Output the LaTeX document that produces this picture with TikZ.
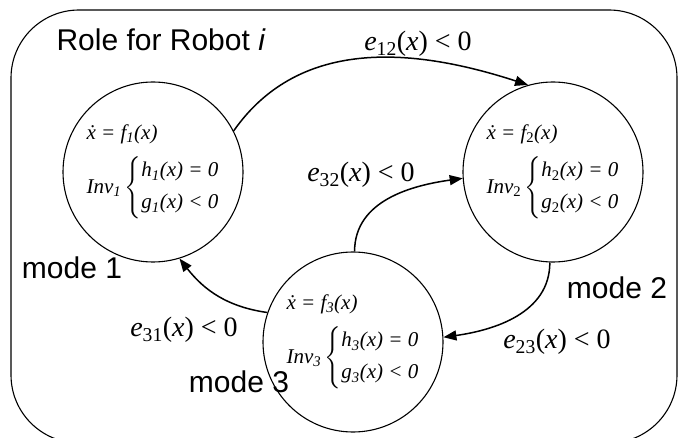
\documentclass[tikz,border=0pt]{standalone}
\usepackage{amsmath}
\usepackage{fontspec}
\setmainfont{Liberation Serif}
\setsansfont{Liberation Sans}
\usepackage{tikz}
\usetikzlibrary{arrows.meta}

% guard and invariant texts, set in the serif text font
\newcommand{\guardtxt}[1]{\textit{e}\textsubscript{#1}(\textit{x})~<~0}
\newcommand{\modetxt}[1]{\textit{\.x = f\textsubscript{#1}(x)}\\[12pt]
  \textit{Inv\textsubscript{#1}}\,$\left\{\begin{tabular}{@{}l@{}}\textit{h\textsubscript{#1}(x) = 0}\\[8pt]
  \textit{g\textsubscript{#1}(x) < 0}\end{tabular}\right.$}

\begin{document}
\begin{tikzpicture}[
  x=1pt, y=1pt,
  frame/.style={draw, line width=1.1pt, rounded corners=68pt},
  mode/.style={draw, circle, line width=1.1pt, minimum size=180pt, inner sep=0pt,
    align=left, font=\fontsize{21}{24}\selectfont},
  lbl/.style={font=\fontsize{30}{34}\sffamily},
  guard/.style={font=\fontsize{28}{32}\selectfont},
  arr/.style={-{Triangle[length=13pt,width=10pt]}, line width=1.5pt},
]
\useasboundingbox (0,0) rectangle (678,437);
\draw[frame] (11,427) rectangle (677,-6);
\node[lbl, anchor=base west] (title) at (53,386) {Role for Robot \textit{i}};
% the three modes
\node[mode] (m1) at (153,265) {\modetxt{1}};
\node[mode] (m2) at (553,265) {\modetxt{\upshape 2}};
\node[mode] (m3) at (353,95) {\modetxt{3}};
\node[lbl] (name1) at (72,169) {mode 1};
\node[lbl] (name2) at (617,149) {mode 2};
\node[lbl] (name3) at (239,55) {mode 3};
% transitions
\draw[arr] (m1.27) to[out=55, in=162] (m2.106);
\draw[arr] (m3.89) to[out=90, in=188] (m2.184);
\draw[arr] (m3.161) to[out=172, in=-52] (m1.287);
\draw[arr] (m2.268) to[out=-90, in=8] (m3.3);
\node[guard] (g12) at (418,393) {\guardtxt{12}};
\node[guard] (g32) at (361,262) {\guardtxt{32}};
\node[guard] (g31) at (184,107) {\guardtxt{31}};
\node[guard] (g23) at (557,95) {\guardtxt{23}};
\end{tikzpicture}
\end{document}
